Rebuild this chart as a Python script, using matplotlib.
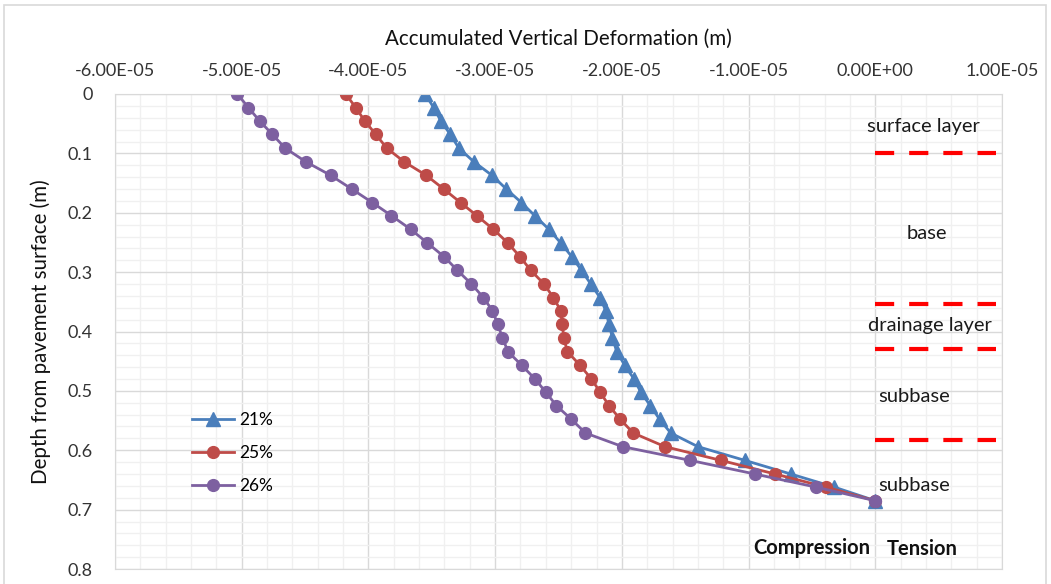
import matplotlib
matplotlib.use("Agg")
import matplotlib.pyplot as plt
from matplotlib.ticker import MultipleLocator, FixedLocator, FixedFormatter
from matplotlib.patches import Rectangle

plt.rcParams['font.family'] = ['Lato', 'DejaVu Sans']

# depth of each node below the pavement surface (m)
depth = [0.000, 0.023, 0.046, 0.068, 0.091, 0.114, 0.137, 0.160, 0.183, 0.205,
         0.228, 0.251, 0.274, 0.297, 0.320, 0.343, 0.365, 0.388, 0.411, 0.434,
         0.457, 0.480, 0.502, 0.525, 0.548, 0.571, 0.594, 0.617, 0.640, 0.662,
         0.685]

# accumulated vertical deformation (m) for each moisture content
def_21 = [-3.552e-5, -3.485e-5, -3.427e-5, -3.354e-5, -3.287e-5, -3.169e-5,
          -3.025e-5, -2.912e-5, -2.792e-5, -2.687e-5, -2.575e-5, -2.482e-5,
          -2.395e-5, -2.319e-5, -2.245e-5, -2.172e-5, -2.127e-5, -2.101e-5,
          -2.074e-5, -2.040e-5, -1.977e-5, -1.904e-5, -1.851e-5, -1.775e-5,
          -1.702e-5, -1.614e-5, -1.399e-5, -1.030e-5, -0.667e-5, -0.325e-5,
          0.0]
def_25 = [-4.179e-5, -4.100e-5, -4.027e-5, -3.942e-5, -3.856e-5, -3.719e-5,
          -3.544e-5, -3.406e-5, -3.272e-5, -3.144e-5, -3.013e-5, -2.899e-5,
          -2.804e-5, -2.719e-5, -2.614e-5, -2.540e-5, -2.482e-5, -2.469e-5,
          -2.459e-5, -2.429e-5, -2.330e-5, -2.240e-5, -2.172e-5, -2.101e-5,
          -2.012e-5, -1.910e-5, -1.659e-5, -1.219e-5, -0.791e-5, -0.391e-5,
          0.0]
def_26 = [-5.034e-5, -4.947e-5, -4.856e-5, -4.758e-5, -4.658e-5, -4.495e-5,
          -4.298e-5, -4.132e-5, -3.968e-5, -3.818e-5, -3.666e-5, -3.534e-5,
          -3.403e-5, -3.298e-5, -3.187e-5, -3.092e-5, -3.021e-5, -2.979e-5,
          -2.942e-5, -2.898e-5, -2.790e-5, -2.685e-5, -2.601e-5, -2.516e-5,
          -2.398e-5, -2.287e-5, -1.993e-5, -1.462e-5, -0.951e-5, -0.470e-5,
          0.0]

# layer boundaries (m) drawn on the tension side
layer_depth = [0.100, 0.354, 0.430, 0.582]
layer_x = [0.0, 0.95e-5]
layer_names = ['surface layer', 'base', 'drainage layer', 'subbase', 'subbase']
layer_name_x = [0.38e-5, 0.41e-5, 0.43e-5, 0.31e-5, 0.31e-5]
layer_name_y = [0.054, 0.235, 0.390, 0.509, 0.660]

x_ticks = [-6e-5, -5e-5, -4e-5, -3e-5, -2e-5, -1e-5, 0.0, 1e-5]
x_labels = ['-6.00E-05', '-5.00E-05', '-4.00E-05', '-3.00E-05', '-2.00E-05',
            '-1.00E-05', '0.00E+00', '1.00E-05']
y_ticks = [0.0, 0.1, 0.2, 0.3, 0.4, 0.5, 0.6, 0.7, 0.8]
y_labels = ['0', '0.1', '0.2', '0.3', '0.4', '0.5', '0.6', '0.7', '0.8']

fig = plt.figure(figsize=(10.51, 5.84), dpi=100)
ax = fig.add_axes([115 / 1051, 1 - 569 / 584, 887 / 1051, 475 / 584])

# chart area border
fig.patches.append(Rectangle((4 / 1051, -0.02), 1042 / 1051, 1.02 - 5 / 584,
                             transform=fig.transFigure, fill=False,
                             edgecolor='#d9d9d9', lw=1.2))

ax.plot(def_21, depth, color='#4a7ebb', lw=2, marker='^', ms=9.5, label='21%')
ax.plot(def_25, depth, color='#be4b48', lw=2, marker='o', ms=8.5, label='25%')
ax.plot(def_26, depth, color='#7d60a0', lw=2, marker='o', ms=8.5, label='26%')

for d in layer_depth:
    ax.plot(layer_x, [d, d], color='#ff0000', lw=3, dashes=(4.6, 3.6))

for name, tx, ty in zip(layer_names, layer_name_x, layer_name_y):
    ax.text(tx, ty, name, ha='center', va='center', fontsize=14.5, color='#1a1a1a')

ax.text(-0.5e-5, 0.765, 'Compression', ha='center', va='center',
        fontsize=14.5, fontweight='bold', color='#111111')
ax.text(0.37e-5, 0.767, 'Tension', ha='center', va='center',
        fontsize=14.5, fontweight='bold', color='#111111')

ax.set_xlim(-6e-5, 1e-5)
ax.set_ylim(0.8, 0)
ax.xaxis.set_major_locator(FixedLocator(x_ticks))
ax.xaxis.set_major_formatter(FixedFormatter(x_labels))
ax.yaxis.set_major_locator(FixedLocator(y_ticks))
ax.yaxis.set_major_formatter(FixedFormatter(y_labels))
ax.xaxis.set_minor_locator(MultipleLocator(0.2e-5))
ax.yaxis.set_minor_locator(MultipleLocator(0.02))

ax.xaxis.tick_top()
ax.xaxis.set_label_position('top')
ax.tick_params(which='both', length=0)
ax.tick_params(axis='x', pad=11, labelsize=13, labelcolor='#333333')
ax.tick_params(axis='y', pad=16, labelsize=13, labelcolor='#333333')

ax.grid(which='major', color='#d9d9d9', lw=1)
ax.grid(which='minor', color='#f0f0f0', lw=1)
ax.set_axisbelow(True)
for s in ax.spines.values():
    s.set_color('#d9d9d9')

ax.set_xlabel('Accumulated Vertical Deformation (m)', fontsize=14.8, labelpad=13,
              color='#111111')
ax.set_ylabel('Depth from pavement surface (m)', fontsize=14.8, labelpad=12,
              color='#111111')

ax.legend(loc='center left', bbox_to_anchor=(0.087, 0.244), frameon=False,
          fontsize=12.5, handlelength=2.4, labelspacing=1.0, borderpad=0,
          borderaxespad=0, handletextpad=0.3)

fig.savefig('out.png', dpi=100)
